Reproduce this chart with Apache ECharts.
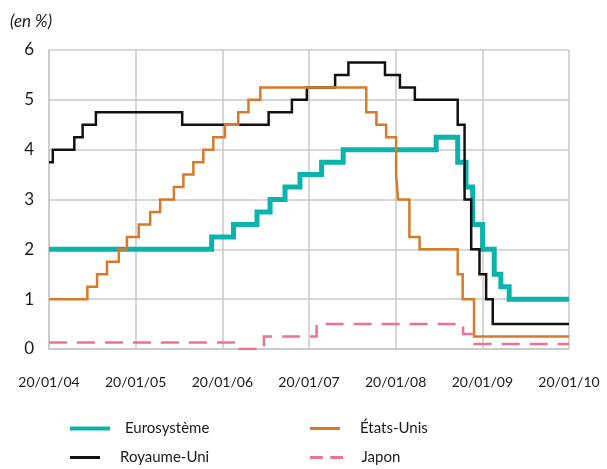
<!DOCTYPE html>
<html>
<head>
<meta charset="utf-8">
<script src="https://cdn.jsdelivr.net/npm/echarts@6/dist/echarts.min.js"></script>
<style>
  html, body { margin: 0; padding: 0; background: #fff; }
  #chart { width: 607px; height: 469px; }
</style>
</head>
<body>
<div id="chart"></div>
<script>
// Policy rates (in %), each entry = [date the rate took effect, rate]
const xTickLabels = ['20/01/04', '20/01/05', '20/01/06', '20/01/07', '20/01/08', '20/01/09', '20/01/10'];
const startYear = 2004;
const endDate = '2010-01-20';

const eurosystemeRates = [
  ['2004-01-20', 2.00], ['2005-12-06', 2.25], ['2006-03-08', 2.50], ['2006-06-15', 2.75],
  ['2006-08-09', 3.00], ['2006-10-11', 3.25], ['2006-12-13', 3.50], ['2007-03-14', 3.75],
  ['2007-06-13', 4.00], ['2008-07-09', 4.25], ['2008-10-08', 3.75], ['2008-11-12', 3.25],
  ['2008-12-10', 2.50], ['2009-01-21', 2.00], ['2009-03-11', 1.50], ['2009-04-08', 1.25],
  ['2009-05-13', 1.00]
];

const royaumeUniRates = [
  ['2004-01-20', 3.75], ['2004-02-05', 4.00], ['2004-05-06', 4.25], ['2004-06-10', 4.50],
  ['2004-08-05', 4.75], ['2005-08-04', 4.50], ['2006-08-03', 4.75], ['2006-11-09', 5.00],
  ['2007-01-11', 5.25], ['2007-05-10', 5.50], ['2007-07-05', 5.75], ['2007-12-06', 5.50],
  ['2008-02-07', 5.25], ['2008-04-10', 5.00], ['2008-10-08', 4.50], ['2008-11-06', 3.00],
  ['2008-12-04', 2.00], ['2009-01-08', 1.50], ['2009-02-05', 1.00], ['2009-03-05', 0.50]
];

const etatsUnisRates = [
  ['2004-01-20', 1.00], ['2004-06-30', 1.25], ['2004-08-10', 1.50], ['2004-09-21', 1.75],
  ['2004-11-10', 2.00], ['2004-12-14', 2.25], ['2005-02-02', 2.50], ['2005-03-22', 2.75],
  ['2005-05-03', 3.00], ['2005-06-30', 3.25], ['2005-08-09', 3.50], ['2005-09-20', 3.75],
  ['2005-11-01', 4.00], ['2005-12-13', 4.25], ['2006-01-31', 4.50], ['2006-03-28', 4.75],
  ['2006-05-10', 5.00], ['2006-06-29', 5.25], ['2007-09-18', 4.75], ['2007-10-31', 4.50],
  ['2007-12-11', 4.25], ['2008-01-22', 3.50], ['2008-01-30', 3.00], ['2008-03-18', 2.25],
  ['2008-04-30', 2.00], ['2008-10-08', 1.50], ['2008-10-29', 1.00], ['2008-12-16', 0.25]
];

const japonRates = [
  ['2004-01-20', 0.13], ['2006-03-09', 0.00], ['2006-07-14', 0.25], ['2007-02-21', 0.50],
  ['2008-10-31', 0.30], ['2008-12-19', 0.10]
];

const yTickLabels = ['0', '1', '2', '3', '4', '5', '6'];

// Map a date onto the axis: one unit per year, measured from each 20 January
function toPos(str) {
  const p = str.split('-').map(Number);
  const t = Date.UTC(p[0], p[1] - 1, p[2]);
  let y = p[0];
  if (t < Date.UTC(y, 0, 20)) y -= 1;
  const a = Date.UTC(y, 0, 20), b = Date.UTC(y + 1, 0, 20);
  return (y - startYear) + (t - a) / (b - a);
}

function toSeriesData(rates) {
  const pts = rates.map(r => [toPos(r[0]), r[1]]);
  pts.push([toPos(endDate), rates[rates.length - 1][1]]);
  return pts;
}

const FONT = 'Lato';
const chart = echarts.init(document.getElementById('chart'), null, { renderer: 'canvas' });

const SOLID_ICON = 'path://M0,0H40V4H0Z';
const DASH_ICON = 'path://M0,0H17V4H0Z M27,0H44V4H27Z';

const seriesDefs = [
  { name: 'Eurosystème', data: eurosystemeRates, color: '#0AB3AB', width: 5, type: 'solid',
    icon: SOLID_ICON, iconH: 5, left: 70, top: 429 },
  { name: 'Royaume-Uni', data: royaumeUniRates, color: '#111111', width: 2.5, type: 'solid',
    icon: SOLID_ICON, iconH: 3, left: 70, top: 458 },
  { name: 'États-Unis', data: etatsUnisRates, color: '#D9792A', width: 2.5, type: 'solid',
    icon: SOLID_ICON, iconH: 3, left: 310, top: 429 },
  { name: 'Japon', data: japonRates, color: '#EE7192', width: 2.5, type: [18, 10],
    icon: DASH_ICON, iconH: 3, left: 310, top: 458 }
];

chart.setOption({
  animation: false,
  backgroundColor: '#fff',
  title: {
    text: '(en %)',
    left: 10,
    top: 13,
    padding: 0,
    textStyle: { fontFamily: FONT, fontSize: 17, fontStyle: 'italic', fontWeight: 'normal', color: '#1a1a1a' }
  },
  legend: seriesDefs.map(s => ({
    data: [{ name: s.name, icon: s.icon }],
    left: s.left,
    top: s.top - 8,
    padding: 0,
    itemWidth: 40,
    itemHeight: s.iconH,
    formatter: name => '{g|}' + name,
    textStyle: {
      fontFamily: FONT, fontSize: 15, color: '#1a1a1a',
      rich: { g: { width: 10 } }
    }
  })),
  grid: { left: 49, right: 38, top: 50, bottom: 120, containLabel: false },
  xAxis: {
    type: 'value',
    min: 0,
    max: 6,
    interval: 1,
    axisLine: { show: true, lineStyle: { color: '#c8c8c8', width: 1.5 } },
    axisTick: { show: false },
    splitLine: { show: true, lineStyle: { color: '#c8c8c8', width: 1.5 } },
    axisLabel: {
      margin: 26,
      fontFamily: FONT,
      fontSize: 14,
      color: '#1a1a1a',
      formatter: v => xTickLabels[Math.round(v)] || ''
    }
  },
  yAxis: {
    type: 'value',
    min: 0,
    max: 6,
    interval: 1,
    axisLine: { show: true, lineStyle: { color: '#c8c8c8', width: 1.5 } },
    axisTick: { show: false },
    splitLine: { show: true, lineStyle: { color: '#c8c8c8', width: 1.5 } },
    axisLabel: {
      margin: 15,
      fontFamily: FONT,
      fontSize: 17,
      color: '#1a1a1a',
      formatter: v => yTickLabels[Math.round(v)] || ''
    }
  },
  series: seriesDefs.map(s => ({
    name: s.name,
    type: 'line',
    step: 'end',
    showSymbol: false,
    symbol: 'none',
    data: toSeriesData(s.data),
    color: s.color,
    itemStyle: { color: s.color },
    lineStyle: { color: s.color, width: s.width, type: s.type, cap: 'butt', join: 'miter' }
  }))
});
</script>
</body>
</html>
